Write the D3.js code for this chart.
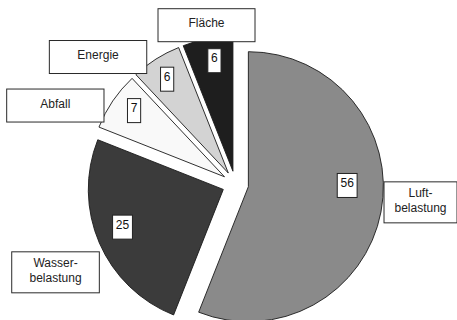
<!DOCTYPE html>
<html>
<head>
<meta charset="utf-8">
<script src="https://cdn.jsdelivr.net/npm/d3@7"></script>
<style>
  html, body { margin: 0; padding: 0; background: #fff; }
  svg { display: block; }
</style>
</head>
<body>
<svg id="chart" width="457" height="320"></svg>
<script>
// Anteile der Umweltbelastungen (in %)
const categories = ["Luftbelastung", "Wasserbelastung", "Abfall", "Energie", "Fläche"];
const values = [56, 25, 7, 6, 6];
const labelLines = [["Luft-", "belastung"], ["Wasser-", "belastung"], ["Abfall"], ["Energie"], ["Fläche"]];
const fills = ["#8a8a8a", "#3b3b3b", "#f9f9f9", "#d3d3d3", "#1e1e1e"];

// Layout of the callout boxes: polar position from the pie centre
// (degrees clockwise from 12 o'clock, distance in px) and box width
const calloutAngle = [95.6, 243.9, 293.6, 312.8, 349.7];
const calloutDist = [186, 200.3, 196.5, 187.2, 161.6];
const calloutWidth = [73, 87.6, 97.3, 97.4, 97];

// Value tags: angle shift from the slice bisector (deg) and radius fraction
const tagShift = [-11.5, 2.9, 2, -0.7, 1.3];
const tagRadius = [0.732, 0.797, 0.83, 0.83, 0.83];

const W = 457, H = 320;
const cx = 235.4, cy = 184.2;
const R = 135;
const explode = 13.2;
const font = "'Liberation Sans', Arial, sans-serif";

const svg = d3.select("#chart");
const g = svg.append("g").attr("transform", `translate(${cx},${cy})`);

const pie = d3.pie().sort(null).startAngle(0).endAngle(2 * Math.PI).value(d => d);
const arcs = pie(values);
const arc = d3.arc().innerRadius(0).outerRadius(R);

const rad = deg => deg * Math.PI / 180;
const polar = (a, r) => [r * Math.sin(a), -r * Math.cos(a)];

// slices, each pushed out along its bisector
const slice = g.selectAll("g.slice")
  .data(arcs)
  .join("g")
  .attr("class", "slice")
  .attr("transform", d => {
    const m = (d.startAngle + d.endAngle) / 2;
    const [dx, dy] = polar(m, explode);
    return `translate(${dx},${dy})`;
  });

slice.append("path")
  .attr("d", arc)
  .attr("fill", (d, i) => fills[i])
  .attr("stroke", "#1a1a1a")
  .attr("stroke-width", 0.9)
  .attr("stroke-linejoin", "miter");

// value tags inside the slices
slice.each(function (d, i) {
  const m = (d.startAngle + d.endAngle) / 2 + rad(tagShift[i]);
  const [x, y] = polar(m, tagRadius[i] * R);
  const tg = d3.select(this).append("g").attr("transform", `translate(${x},${y})`);
  const rect = tg.append("rect");
  const t = tg.append("text")
    .attr("text-anchor", "middle")
    .attr("y", 1.6)
    .attr("font-family", font)
    .attr("font-size", 12)
    .attr("fill", "#111")
    .text(values[i]);
  const w = t.node().getComputedTextLength() + 6.5;
  rect.attr("x", -w / 2).attr("y", -12).attr("width", w).attr("height", 24)
    .attr("fill", "#fff").attr("stroke", "#222").attr("stroke-width", 1);
});

// category callout boxes
const lineH = 15.8;
categories.forEach((c, i) => {
  const [x, y] = polar(rad(calloutAngle[i]), calloutDist[i]);
  const lines = labelLines[i];
  const h = lines.length > 1 ? 41 : 33;
  const w = calloutWidth[i];
  const box = g.append("g").attr("transform", `translate(${x},${y})`);
  box.append("rect")
    .attr("x", -w / 2).attr("y", -h / 2).attr("width", w).attr("height", h)
    .attr("fill", "#fff").attr("stroke", "#2a2a2a").attr("stroke-width", 1);
  const t = box.append("text")
    .attr("text-anchor", "middle")
    .attr("font-family", font)
    .attr("font-size", 12)
    .attr("fill", "#222");
  lines.forEach((ln, k) => {
    t.append("tspan")
      .attr("x", 0)
      .attr("y", -(lines.length - 1) * lineH / 2 + k * lineH + 2.2)
      .text(ln);
  });
});
</script>
</body>
</html>
